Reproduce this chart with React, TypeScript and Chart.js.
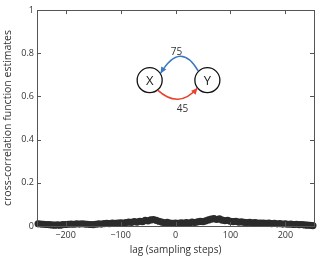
import React, { useEffect, useRef } from "react";
import { Chart, registerables } from "chart.js";

Chart.register(...registerables);

const lags: number[] = [
  -250, -245, -240, -235, -230, -225, -220, -215, -210, -205, -200, -195, -190, -185, -180, -175, -170,
  -165, -160, -155, -150, -145, -140, -135, -130, -125, -120, -115, -110, -105, -100, -95, -90, -85, -80,
  -75, -70, -65, -60, -55, -50, -45, -40, -35, -30, -25, -20, -15, -10, -5, 0, 5, 10, 15, 20, 25, 30, 35,
  40, 45, 50, 55, 60, 65, 70, 75, 80, 85, 90, 95, 100, 105, 110, 115, 120, 125, 130, 135, 140, 145, 150,
  155, 160, 165, 170, 175, 180, 185, 190, 195, 200, 205, 210, 215, 220, 225, 230, 235, 240, 245, 250,
];
const ccf: number[] = [
  0.010, 0.009, 0.008, 0.007, 0.006, 0.005, 0.004, 0.005, 0.004, 0.006, 0.007, 0.008, 0.009, 0.008, 0.010,
  0.009, 0.010, 0.009, 0.008, 0.007, 0.006, 0.008, 0.010, 0.009, 0.011, 0.012, 0.011, 0.013, 0.012, 0.014,
  0.015, 0.013, 0.016, 0.018, 0.017, 0.020, 0.018, 0.022, 0.020, 0.026, 0.024, 0.028, 0.030, 0.026, 0.022,
  0.018, 0.015, 0.017, 0.013, 0.012, 0.014, 0.012, 0.015, 0.013, 0.016, 0.014, 0.018, 0.016, 0.019, 0.021,
  0.020, 0.024, 0.028, 0.032, 0.034, 0.030, 0.033, 0.027, 0.025, 0.026, 0.022, 0.020, 0.021, 0.018, 0.019,
  0.017, 0.016, 0.017, 0.015, 0.016, 0.014, 0.013, 0.014, 0.012, 0.013, 0.011, 0.012, 0.010, 0.011, 0.009,
  0.010, 0.008, 0.009, 0.007, 0.008, 0.006, 0.007, 0.005, 0.004, 0.003, 0.002,
];
const xTicks: number[] = [-200, -100, 0, 100, 200];
const yTicks: number[] = [0, 0.2, 0.4, 0.6, 0.8, 1];
const xRange: number[] = [-252, 252];
const nodeLabels: string[] = ["X", "Y"];
const nodeLags: number[] = [-47, 58];
const nodeLevel = 0.675;
const delayLabels: string[] = ["75", "45"];

const TEXT = "#333333";
const AXIS = "#555555";

const boxPlugin = {
  id: "matlabBox",
  afterDraw(chart: any) {
    const { ctx, chartArea: a, scales } = chart;
    const xs = scales.x, ys = scales.y;
    ctx.save();
    ctx.strokeStyle = AXIS;
    ctx.lineWidth = 1;
    ctx.strokeRect(Math.round(a.left) + 0.5, Math.round(a.top) + 0.5, Math.round(a.right - a.left), Math.round(a.bottom - a.top));
    const tl = 4;
    ctx.beginPath();
    xTicks.forEach((v) => {
      const px = Math.round(xs.getPixelForValue(v)) + 0.5;
      ctx.moveTo(px, a.bottom);
      ctx.lineTo(px, a.bottom - tl);
      ctx.moveTo(px, a.top);
      ctx.lineTo(px, a.top + tl);
    });
    yTicks.forEach((v) => {
      const py = Math.round(ys.getPixelForValue(v)) + 0.5;
      ctx.moveTo(a.left, py);
      ctx.lineTo(a.left + tl, py);
      ctx.moveTo(a.right, py);
      ctx.lineTo(a.right - tl, py);
    });
    ctx.stroke();

    // inset diagram
    const r = 12.5;
    const X = { x: xs.getPixelForValue(nodeLags[0]), y: ys.getPixelForValue(nodeLevel) };
    const Y = { x: xs.getPixelForValue(nodeLags[1]), y: ys.getPixelForValue(nodeLevel) };
    ctx.lineWidth = 1.3;
    ctx.strokeStyle = "#111";
    ctx.fillStyle = "#222";
    ctx.font = "13px 'Open Sans', sans-serif";
    ctx.textAlign = "center";
    ctx.textBaseline = "middle";
    [X, Y].forEach((n, i) => {
      ctx.beginPath();
      ctx.arc(n.x, n.y, r, 0, Math.PI * 2);
      ctx.stroke();
      ctx.fillText(nodeLabels[i], n.x, n.y + 1);
    });

    const curve = (p0: any, c: any, p1: any, color: string) => {
      ctx.strokeStyle = color;
      ctx.fillStyle = color;
      ctx.lineWidth = 1.6;
      ctx.beginPath();
      ctx.moveTo(p0.x, p0.y);
      ctx.quadraticCurveTo(c.x, c.y, p1.x, p1.y);
      ctx.stroke();
      const ang = Math.atan2(p1.y - c.y, p1.x - c.x);
      const L = 6, W = 3;
      ctx.beginPath();
      ctx.moveTo(p1.x, p1.y);
      ctx.lineTo(p1.x - L * Math.cos(ang) + W * Math.sin(ang), p1.y - L * Math.sin(ang) - W * Math.cos(ang));
      ctx.lineTo(p1.x - L * Math.cos(ang) - W * Math.sin(ang), p1.y - L * Math.sin(ang) + W * Math.cos(ang));
      ctx.closePath();
      ctx.fill();
    };
    const midX = (X.x + Y.x) / 2;
    // blue: Y -> X on top
    curve({ x: Y.x - 9, y: Y.y - 9 }, { x: midX + 2, y: X.y - 40 }, { x: X.x + 11, y: X.y - 7 }, "#3b78c2");
    // red: X -> Y on bottom
    curve({ x: X.x + 8, y: X.y + 10 }, { x: midX, y: X.y + 29 }, { x: Y.x - 10, y: Y.y + 8 }, "#e8432f");

    ctx.fillStyle = TEXT;
    ctx.font = "10px 'Open Sans', sans-serif";
    ctx.fillText(delayLabels[0], midX - 2, X.y - 28);
    ctx.fillText(delayLabels[1], midX + 4, X.y + 29);
    ctx.restore();
  },
};

export default function App() {
  const ref = useRef<HTMLCanvasElement>(null);
  useEffect(() => {
    if (!ref.current) return;
    const chart = new Chart(ref.current, {
      type: "scatter",
      data: {
        datasets: [
          {
            data: lags.map((l, i) => ({ x: l, y: ccf[i] })),
            backgroundColor: "#2b2b2b",
            borderColor: "#2b2b2b",
            pointRadius: 3.6,
            pointBorderWidth: 0,
            showLine: true,
            borderWidth: 5,
            clip: false,
          } as any,
        ],
      },
      options: {
        responsive: false,
        animation: false,
        events: [],
        layout: { padding: { top: 10, right: 5, left: 0, bottom: 0 } },
        plugins: { legend: { display: false }, tooltip: { enabled: false } },
        scales: {
          x: {
            type: "linear",
            min: xRange[0],
            max: xRange[1],
            afterBuildTicks: (s: any) => {
              s.ticks = xTicks.map((v) => ({ value: v }));
            },
            afterFit: (s: any) => {
              s.height = 30;
            },
            grid: { display: false, drawTicks: false },
            border: { display: false },
            ticks: {
              color: TEXT,
              font: { family: "'Open Sans', sans-serif", size: 9 },
              padding: 4,
              maxRotation: 0,
              callback: (v: any) => String(v).replace("-", "\u2212"),
            },
            title: {
              display: true,
              text: "lag (sampling steps)",
              color: TEXT,
              font: { family: "'Open Sans', sans-serif", size: 10 },
              padding: { top: 0, bottom: 0 },
            },
          },
          y: {
            type: "linear",
            min: 0,
            max: 1,
            afterBuildTicks: (s: any) => {
              s.ticks = yTicks.map((v) => ({ value: v }));
            },
            afterFit: (s: any) => {
              s.width = 37;
            },
            grid: { display: false, drawTicks: false },
            border: { display: false },
            ticks: {
              color: TEXT,
              font: { family: "'Open Sans', sans-serif", size: 9 },
              padding: 3,
              callback: (v: any) => String(Math.round(v * 10) / 10),
            },
            title: {
              display: true,
              text: "cross-correlation function estimates",
              color: TEXT,
              font: { family: "'Open Sans', sans-serif", size: 10.5 },
              padding: { top: 2, bottom: 0 },
            },
          },
        },
      },
      plugins: [boxPlugin],
    });
    return () => chart.destroy();
  }, []);
  return (
    <div style={{ position: "absolute", left: 0, top: 0, width: 319, height: 256, background: "#fff" }}>
      <canvas ref={ref} width={319} height={256} />
    </div>
  );
}
